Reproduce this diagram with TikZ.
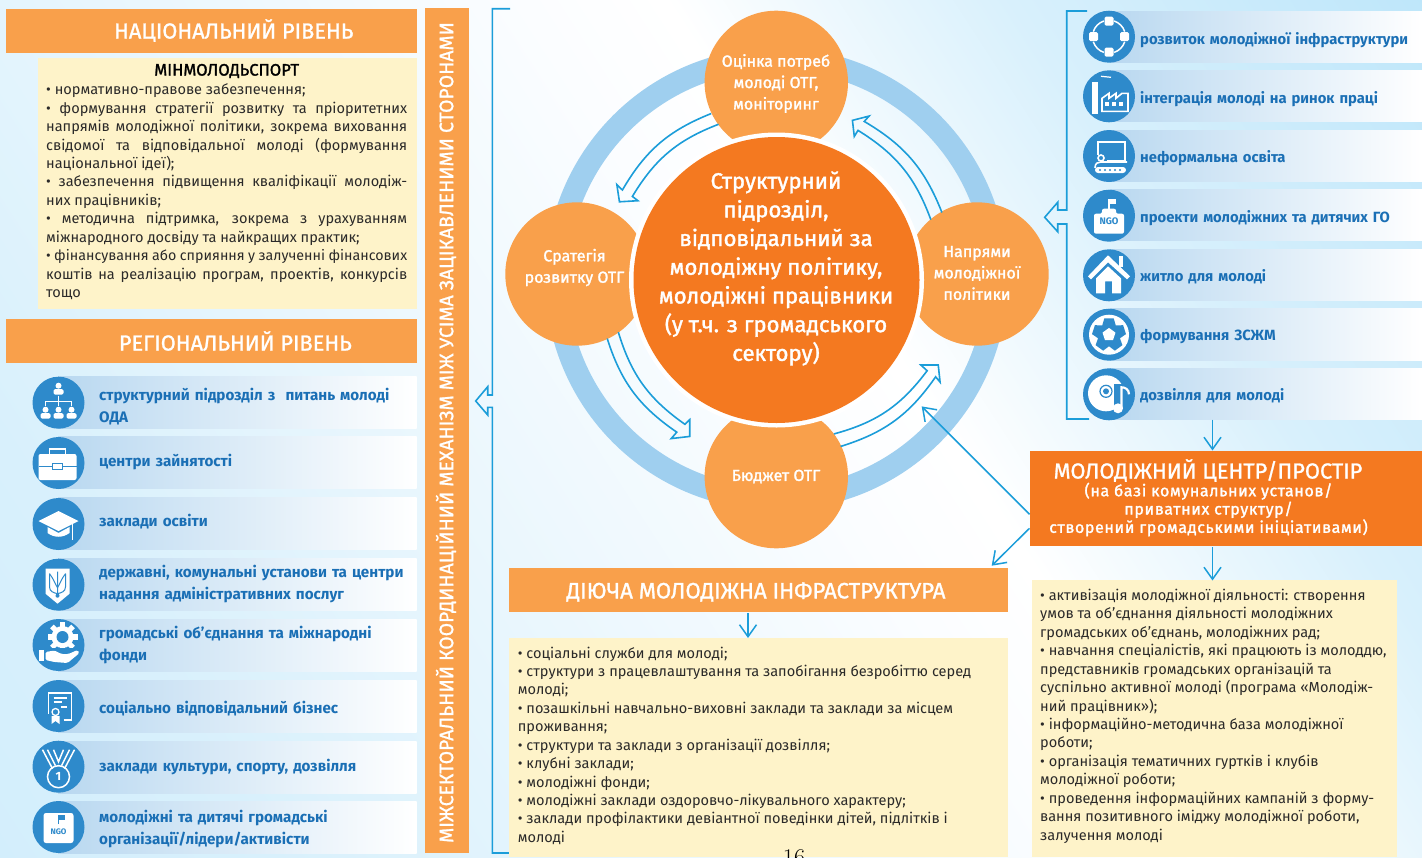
\documentclass[tikz,border=0pt]{standalone}
\usepackage{fontspec}
\setmainfont{Fira Sans}
\newfontfamily\medf[FakeBold=1.6]{Fira Sans}
\newfontfamily\headf[FakeBold=1.2]{Fira Sans}
\newfontfamily\spacedf[FakeBold=1.6,LetterSpace=4]{Fira Sans}
\usetikzlibrary{arrows.meta}
\definecolor{orL}{HTML}{F9A04B}
\definecolor{orD}{HTML}{F47920}
\definecolor{yel}{HTML}{FEF3C9}
\definecolor{lnb}{HTML}{1B9DD9}
\definecolor{ringb}{HTML}{9FCFEF}
\definecolor{icb}{HTML}{2E8ACB}
\definecolor{rowt}{HTML}{1A6FB5}
\definecolor{bandA}{HTML}{B9D8F0}
\definecolor{bandB}{HTML}{C9DFF4}
\definecolor{bg0}{HTML}{CDECFB}
\definecolor{bg1}{HTML}{D8F0FC}
\definecolor{bg2}{HTML}{E8F6FD}
\definecolor{bg3}{HTML}{FBFDFF}
\definecolor{bg4}{HTML}{BDE6FA}
\definecolor{bg5}{HTML}{B5E2F9}
\definecolor{bodyk}{HTML}{2B2A29}
\pgfdeclarehorizontalshading{bgsh}{100bp}{color(0bp)=(bg0);color(22bp)=(bg1);color(35bp)=(bg2);color(50bp)=(bg3);color(55bp)=(white);color(67bp)=(bg1);color(82bp)=(bg4);color(100bp)=(bg5)}
\tikzset{
 header/.style={fill=orL,inner sep=0,text=white},
 headtext/.style={text=white,inner sep=0,font=\headf\fontsize{21.8}{24}\selectfont},
 yelbox/.style={fill=yel},
 bandshade/.style={left color=bandA,middle color=bandB,right color=white},
 iconc/.style={circle,fill=icb,inner sep=0,minimum size=52pt},
 rowtext/.style={anchor=west,inner sep=0,align=left,text=rowt,text width=330pt,font=\fontsize{15.2}{22}\bfseries\selectfont},
 rowtextR/.style={rowtext,text width=285pt,font=\fontsize{14.8}{22}\bfseries\selectfont},
 bodytext/.style={anchor=north west,inner sep=0,align=left,text=bodyk,font=\fontsize{14.55}{18.44}\selectfont},
 wtext/.style={text=white,inner sep=0,align=center},
 sattext/.style={wtext,font=\medf\fontsize{16}{21.4}\selectfont},
 conn/.style={draw=lnb,line width=1.5pt,-{Straight Barb[length=12pt,width=17pt,line width=1.5pt]}},
 outl/.style={draw=lnb,line width=1.6pt,line join=miter},
 ic/.style={line width=1.6pt,draw=white},
}
\newcommand\jl[1]{\makebox[361pt][s]{#1}}
\newcommand\jls[1]{\makebox[361pt][s]{\fontsize{14.25}{18.44}\selectfont #1}}
\newcommand\fs{\rule{0pt}{12pt}}
\newcommand\iperson[2]{\fill[white] (#1,#2) circle (3);\fill[white,rounded corners=1.5pt] (#1-5,#2+3.5) rectangle (#1+5,#2+9);}
\begin{document}
\begin{tikzpicture}[x=1pt,y=-1pt]
\clip (0,0) rectangle (1422,857);
% background
\node[rotate=33,scale=24,inner sep=0] (bgn) at (800,428.5) {\pgfuseshading{bgsh}};

% ---- national level
\node[header,minimum width=410.5pt,minimum height=44pt,anchor=north west] (nat) at (6,9) {};
\node[headtext] (natT) at (233.7,30.5) {НАЦІОНАЛЬНИЙ РІВЕНЬ};
\path[yelbox] (38,58) rectangle (416.5,309);
\node[inner sep=0,font=\medf\fontsize{16.6}{18}\selectfont,text=black] (minT) at (226.7,71) {МІНМОЛОДЬСПОРТ};
\node[bodytext] (natB) at (46,82.5) {\fs• нормативно-правове забезпечення;\\
\jl{• формування стратегії розвитку та пріоритетних}\\
\jl{напрямів молодіжної політики, зокрема виховання}\\
\jl{свідомої та відповідальної молоді (формування}\\
національної ідеї);\\
\jl{• забезпечення підвищення кваліфікації молодіж-}\\
них працівників;\\
\jl{• методична підтримка, зокрема з урахуванням}\\
міжнародного досвіду та найкращих практик;\\
\jls{• фінансування або сприяння у залученні фінансових}\\
\jl{коштів на реалізацію програм, проектів, конкурсів}\\
тощо};

% ---- regional level
\node[header,minimum width=410.5pt,minimum height=44pt,anchor=north west] (reg) at (6,319) {};
\node[headtext] (regT) at (235.3,341) {РЕГІОНАЛЬНИЙ РІВЕНЬ};
\foreach \t in {376,436,497,558,619,680,741,801}{\shade[bandshade] (58,\t) rectangle (416.5,\t+52);}
\node[iconc] (L1) at (58.5,402.7) {};
\node[iconc] (L2) at (58.5,463) {};
\node[iconc] (L3) at (58.5,524) {};
\node[iconc] (L4) at (58.5,584.7) {};
\node[iconc] (L5) at (58.5,645) {};
\node[iconc] (L6) at (58.5,706) {};
\node[iconc] (L7) at (58.5,766.7) {};
\node[iconc] (L8) at (58.5,827) {};
\node[rowtext] (lt1) at (99,407) {структурний підрозділ з \ питань молоді\\ОДА};
\node[rowtext] (lt2) at (99,462.5) {центри зайнятості};
\node[rowtext] (lt3) at (99,521.8) {заклади освіти};
\node[rowtext] (lt4) at (99,584.1) {державні, комунальні установи та центри\\надання адміністративних послуг};
\node[rowtext] (lt5) at (99,645.1) {громадські об’єднання та міжнародні\\фонди};
\node[rowtext] (lt6) at (99,708.5) {соціально відповідальний бізнес};
\node[rowtext] (lt7) at (99,766.8) {заклади культури, спорту, дозвілля};
\node[rowtext] (lt8) at (99,828.6) {молодіжні та дитячі громадські\\організації/лідери/активісти};

% left icons
\begin{scope}[shift={(L1.center)}]
 \iperson{0}{-17}\iperson{-13}{7}\iperson{0}{7}\iperson{13}{7}
 \draw[white,line width=.7pt] (0,-7)--(0,3) (-13,3)--(-13,-1)--(13,-1)--(13,3);
\end{scope}
\begin{scope}[shift={(L2.center)}]
 \fill[white,rounded corners=2pt] (-20,-9) rectangle (18,17);
 \draw[icb,line width=1pt] (-20,3)--(-6,3) (4,3)--(18,3);
 \draw[icb,line width=1pt] (-6,0) rectangle (4,6);
 \draw[white,line width=1.8pt] (-9,-9)--(-9,-14)--(7,-14)--(7,-9);
\end{scope}
\begin{scope}[shift={(L3.center)}]
 \fill[white] (-20,-3)--(0,-13)--(20,-3)--(0,7)--cycle;
 \fill[white] (-11,3)--(0,9)--(11,3)--(11,9)..controls (4,14) and (-4,14)..(-11,9)--cycle;
 \draw[white,line width=1.1pt] (14,-1)--(14,16);
\end{scope}
\begin{scope}[shift={(L4.center)}]
 \fill[white] (-13,-16)--(11,-16)--(11,9)--(-1,19)--(-13,9)--cycle;
 \draw[icb,line width=1pt] (-1,-13)--(-1,9) (-9,-11)--(-9,2)..controls (-9,7) and (-5,8)..(-1,9)..controls (3,8) and (7,7)..(7,2)--(7,-11);
 \draw[icb,line width=1pt] (-9,-11)..controls (-5,-6) and (-4,-2)..(-1,3)..controls (2,-2) and (3,-6)..(7,-11);
 \fill[icb] (-1,11) circle (2);
\end{scope}
\begin{scope}[shift={(L5.center)}]
 \fill[white] (4,-8) circle (11);
 \foreach \a in {0,45,...,315}{\fill[white,shift={(4,-8)},rotate=\a] (-2.6,-15) rectangle (2.6,-8);}
 \fill[icb] (4,-8) circle (6);
 \fill[white] (-20,5) rectangle (-15,16);
 \fill[icb] (-15,3) rectangle (21,7);
 \fill[white,rounded corners=1.5pt] (-13,7)--(-4,5.5)--(3,9)--(10,9)--(19,5)--(21,8)--(9,18)--(-4,17)--(-13,15)--cycle;
\end{scope}
\begin{scope}[shift={(L6.center)}]
 \draw[ic] (5,14)--(13,14)--(13,-13)--(-10,-13)--(-10,8);
 \draw[white,line width=1.3pt] (-5,-8)--(8,-8) (-5,-4)--(3,-4) (2,1)--(8,1);
 \draw[white,line width=1.3pt] (-3,6) circle (3.5);
 \fill[white] (-7,10)--(-7,18)--(-3,15)--(1,18)--(1,10)--cycle;
\end{scope}
\begin{scope}[shift={(L7.center)}]
 \draw[white,line width=1.5pt] (-16,-17)--(-6,2) (-11,-17)--(-3,-1) (16,-17)--(6,2) (11,-17)--(3,-1) (-5,-17)--(0,-5)--(5,-17);
 \draw[white,line width=1.5pt] (0,10) circle (11);
 \node[text=white,inner sep=0,font=\fontsize{12}{12}\bfseries\selectfont] (med1) at (0,10) {1};
\end{scope}
\begin{scope}[shift={(L8.center)}]
 \fill[white,rounded corners=2.5pt] (-15,-14) rectangle (15,16);
 \draw[icb,line width=1pt] (0,-3)--(0,-12);
 \fill[icb] (0,-12)--(6,-12)--(6,-7)--(0,-7)--cycle;
 \node[text=icb,inner sep=0,font=\fontsize{8}{8}\bfseries\selectfont] (ngo1) at (0,5) {NGO};
\end{scope}

% ---- vertical bar
\path[fill=orL] (425,7.5) rectangle (468.5,853);
\node[rotate=90,text=white,inner sep=0,font=\headf\fontsize{19.4}{22}\selectfont] (vert) at (446,432.5) {МІЖСЕКТОРАЛЬНИЙ КООРДИНАЦІЙНИЙ МЕХАНІЗМ МІЖ УСІМА ЗАЦІКАВЛЕНИМИ СТОРОНАМИ};

% ---- left bracket
\draw[outl] (510,8.7)--(492.3,8.7)--(492.3,395)--(487.7,395)--(487.7,386.7)--(475.7,401)--(487.7,415)--(487.7,407.3)--(492.3,407.3)--(492.3,853)--(509,853);

% ---- cycle
\draw[ringb,line width=22.5pt] (776.5,279) circle (220);
\node[circle,fill=orL,inner sep=0,minimum size=143.4pt] (top) at (776.3,82.4) {};
\node[circle,fill=orL,inner sep=0,minimum size=143.4pt] (left) at (577,274) {};
\node[circle,fill=orL,inner sep=0,minimum size=143.4pt] (right) at (977,274) {};
\node[circle,fill=orL,inner sep=0,minimum size=143.4pt] (bot) at (776.3,476.6) {};
\node[circle,fill=white,inner sep=0,minimum size=295pt] (ringw) at (776.5,280) {};
\node[circle,fill=orD,inner sep=0,minimum size=286pt] (mid) at (776.5,280) {};
\node[wtext,font=\medf\fontsize{22.2}{28.7}\selectfont] (midT) at (776,268.5) {Структурний\\підрозділ,\\відповідальний за\\молодіжну політику,\\молодіжні працівники\\(у т.ч. з громадського\\сектору)};
\node[sattext] (topT) at (776,83.5) {Оцінка потреб\\молоді ОТГ,\\моніторинг};
\node[sattext] (leftT) at (574.5,267.5) {Сратегія\\розвитку ОТГ};
\node[sattext] (rightT) at (977,273) {Напрями\\молодіжної\\політики};
\node[sattext] (botT) at (776,476.5) {Бюджет ОТГ};

% hollow circular arrows (zoom-frame coordinates)
\begin{scope}[shift={(490,0)},x=.36982pt,y=-.35714pt]
 \draw[outl] (598,318) to[bend right=19] (358,532) -- (343,517) -- (350,565) -- (400,562) -- (385,550) to[bend left=19] (618,348);
 \draw[outl] (1222,595) to[bend right=19] (1012,340) -- (1025,325) -- (980,337) -- (985,382) -- (995,365) to[bend left=19] (1192,615);
 \draw[outl] (317,948) to[bend right=19] (505,1210) -- (490,1228) -- (540,1222) -- (540,1175) -- (527,1188) to[bend left=19] (347,930);
 \draw[outl] (948,1250) to[bend right=19] (1205,1055) -- (1217,1070) -- (1212,1022) -- (1165,1022) -- (1182,1038) to[bend left=19] (930,1215);
\end{scope}

% ---- right list
\foreach \t in {11,70,130,189,249,308.7,368}{\shade[bandshade] (1110,\t) rectangle (1422,\t+51.5);}
\node[iconc] (R1) at (1109,36.7) {};
\node[iconc] (R2) at (1109,96.3) {};
\node[iconc] (R3) at (1109,156) {};
\node[iconc] (R4) at (1109,215.7) {};
\node[iconc] (R5) at (1109,275.3) {};
\node[iconc] (R6) at (1109,334.7) {};
\node[iconc] (R7) at (1109,394.3) {};
\node[rowtextR] (rt1) at (1140,40) {розвиток молодіжної інфраструктури};
\node[rowtextR] (rt2) at (1140,98.8) {інтеграція молоді на ринок праці};
\node[rowtextR] (rt3) at (1140,158.5) {неформальна освіта};
\node[rowtextR] (rt4) at (1140,217.8) {проекти молодіжних та дитячих ГО};
\node[rowtextR] (rt5) at (1140,276.8) {житло для молоді};
\node[rowtextR] (rt6) at (1140,336.5) {формування ЗСЖМ};
\node[rowtextR] (rt7) at (1140,395.5) {дозвілля для молоді};

% right icons
\begin{scope}[shift={(R1.center)}]
 \foreach \p in {(0,-15.5),(0,15.5),(-15.5,0),(15.5,0)}{\fill[white,rounded corners=1.5pt,shift={\p}] (-4.5,-4.5) rectangle (4.5,4.5);}
 \foreach \a in {0,90,180,270}{\draw[white,line width=1.5pt] (\a+18:16.5) arc (\a+18:\a+72:16.5);}
\end{scope}
\begin{scope}[shift={(R2.center)}]
 \fill[white] (-17,-14) rectangle (-11,18);
 \draw[white,line width=1.2pt] (-8,-20)--(2,-19);
 \draw[ic] (-7,15)--(19,15)--(19,-3)--(13,-3)--(7,2)--(7,-3)--(0,2)--(0,-3)--(-7,2)--cycle;
 \foreach \x in {-2,5,12}{\fill[white] (\x-1.7,6) rectangle (\x+1.7,10);}
\end{scope}
\begin{scope}[shift={(R3.center)}]
 \draw[ic] (-11,-1)--(-11,-14)--(16,-14)--(16,5)--(-2,5);
 \draw[ic] (-8,2) circle (3);
 \draw[ic] (-14,12)..controls (-14,7) and (-11,6)..(-8,6)--(18,6);
 \fill[white,rounded corners=3pt] (-14,11) rectangle (17,17);
 \foreach \x in {-9,-4,1,6,11}{\fill[icb] (\x,14) circle (1.1);}
\end{scope}
\begin{scope}[shift={(R4.center)}]
 \draw[white,line width=1.2pt] (0,-6)--(0,-17);
 \fill[white] (0,-17)--(7,-17)--(7,-12)--(0,-12)--cycle;
 \fill[white,rounded corners=2pt] (-15,-2)--(-7,-2)--(-7,-7)--(7,-7)--(7,-2)--(15,-2)--(15,18)--(-15,18)--cycle;
 \node[text=icb,inner sep=0,font=\fontsize{9.5}{10}\bfseries\selectfont] (ngo2) at (0,6) {NGO};
\end{scope}
\begin{scope}[shift={(R5.center)}]
 \fill[white] (-21,1)--(-1,-20)--(21,1)--(18,4)--(-1,-13)--(-18,4)--cycle;
 \fill[white] (10,-19) rectangle (14,-8);
 \fill[white] (-13,3)--(-1,-9)--(12,3)--(12,18)--(3,18)--(3,6)--(-4,6)--(-4,18)--(-13,18)--cycle;
\end{scope}
\begin{scope}[shift={(R6.center)}]
 \fill[white] (0,0) circle (20);
 \fill[icb] (270+16:17)--(270-16:17)--(234:11.5)--(198+16:17)--(198-16:17)--(162:11.5)--(126+16:17)--(126-16:17)--(90:11.5)--(54+16:17)--(54-16:17)--(18:11.5)--(-18+16:17)--(-18-16:17)--(-54:11.5)--cycle;
 \fill[white] (270:6.8)--(342:6.8)--(54:6.8)--(126:6.8)--(198:6.8)--cycle;
\end{scope}
\begin{scope}[shift={(R7.center)}]
 \fill[white] (-3,-1) circle (18);
 \draw[icb,line width=1.2pt] (-3,-3) circle (6);
 \fill[icb] (-3,-3) circle (3);
 \fill[icb] (5,-10) rectangle (16,20);
 \fill[white] (9,14) ellipse (5 and 5);
 \draw[white,line width=2.2pt] (12.5,14)--(12.5,-7)..controls (16,-7) and (20,-5)..(20,0);
\end{scope}

% right bracket
\draw[outl] (1087,11)--(1066.7,11)--(1066.7,210)--(1057.7,210)--(1057.7,202.3)--(1044.7,217.3)--(1057.7,231.7)--(1057.7,224)--(1066.7,224)--(1066.7,419)--(1089,419);

% ---- youth centre
\node[fill=orD,inner sep=0,minimum width=393pt,minimum height=95pt,anchor=north west] (yc) at (1029.3,451) {};
\node[headtext] (ycT) at (1208,470.5) {МОЛОДІЖНИЙ ЦЕНТР/ПРОСТІР};
\node[text=white,inner sep=0,align=center,font=\spacedf\fontsize{16}{18.3}\selectfont] (ycS) at (1208.5,509.5) {(на базі комунальних установ/\\приватних структур/\\створений громадськими ініціативами)};
\coordinate (listEnd) at (1212.5,419.5);
\coordinate (ycIn) at (1212.5,450.5);
\draw[conn] (listEnd)--(ycIn);

% youth centre text
\path[yelbox] (1032,580) rectangle (1397.3,857);
\node[bodytext] (ycB) at (1040,588.2) {\fs• активізація молодіжної діяльності: створення\\
умов та об’єднання діяльності молодіжних\\
громадських об’єднань, молодіжних рад;\\
• навчання спеціалістів, які працюють із молоддю,\\
представників громадських організацій та\\
суспільно активної молоді (програма «Молодіж-\\
ний працівник»);\\
• інформаційно-методична база молодіжної\\
роботи;\\
• організація тематичних гуртків і клубів\\
молодіжної роботи;\\
• проведення інформаційних кампаній з форму-\\
вання позитивного іміджу молодіжної роботи,\\
залучення молоді};
\coordinate (ycOut) at (1212.5,547);
\coordinate (ycBIn) at (1212.5,580.5);
\draw[conn] (ycOut)--(ycBIn);

% ---- infrastructure
\node[header,minimum width=498.6pt,minimum height=43.7pt,anchor=north west] (inf) at (509,568) {};
\node[headtext,font=\headf\fontsize{22.2}{24}\selectfont] (infT) at (756,592) {ДІЮЧА МОЛОДІЖНА ІНФРАСТРУКТУРА};
\path[yelbox] (509,638) rectangle (1007.6,857);
\node[bodytext] (infB) at (517.7,645.8) {\fs• соціальні служби для молоді;\\
• структури з працевлаштування та запобігання безробіттю серед\\
молоді;\\
• позашкільні навчально-виховні заклади та заклади за місцем\\
проживання;\\
• структури та заклади з організації дозвілля;\\
• клубні заклади;\\
• молодіжні фонди;\\
• молодіжні заклади оздоровчо-лікувального характеру;\\
• заклади профілактики девіантної поведінки дітей, підлітків і\\
молоді};
\coordinate (infOut) at (748,613);
\coordinate (infIn) at (748,638);
\draw[conn] (infOut)--(infIn);

% centre connectors
\coordinate (ycA) at (1029.5,514.3);
\coordinate (ycC) at (1029.5,528.3);
\coordinate (cycIn) at (921.7,406.4);
\coordinate (infTop) at (991.7,565.7);
\draw[conn] (ycA)--(cycIn);
\draw[conn] (ycC)--(infTop);

% page number, cut by the page edge
\node[inner sep=0,anchor=base,font=\fontfamily{lmr}\fontsize{24}{28}\selectfont,text=black] (pg) at (794,865.5) {16};
\end{tikzpicture}
\end{document}
